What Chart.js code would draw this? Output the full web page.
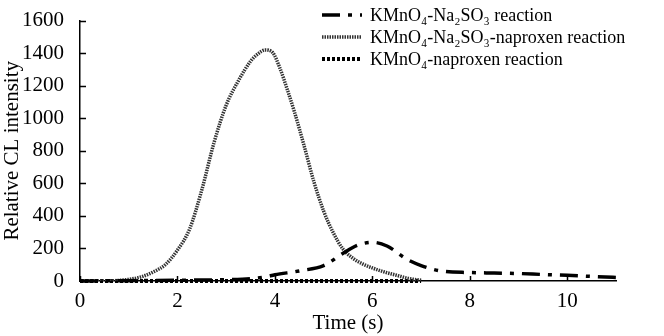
<!DOCTYPE html>
<html>
<head>
<meta charset="utf-8">
<script src="https://cdn.jsdelivr.net/npm/chart.js@4.4.1/dist/chart.umd.min.js"></script>
<style>
  html, body { margin: 0; padding: 0; background: #fff; }
  #wrap { position: relative; width: 664px; height: 336px; }
</style>
</head>
<body>
<div id="wrap"><canvas id="cl"></canvas></div>
<script>
// KMnO4-Na2SO3 reaction (dash-dot)
const sulfiteTime = [0, 1, 2, 2.5, 3, 3.5, 3.8, 4, 4.5, 5, 5.4, 5.7, 6, 6.3, 6.7, 7, 7.4, 8, 8.5, 9, 9.5, 10, 10.5, 11.15];
const sulfiteCL   = [0, 2, 5, 6, 8, 14, 25, 38, 62, 95, 170, 220, 238, 215, 135, 95, 62, 52, 49, 46, 40, 35, 28, 20];

// KMnO4-Na2SO3-naproxen reaction (dotted)
const mixTime = [0, 0.5, 1, 1.25, 1.5, 1.75, 2, 2.25, 2.5, 2.75, 3, 3.25, 3.5, 3.65, 3.8, 3.95, 4.1, 4.25, 4.4, 4.6, 4.8, 5, 5.2, 5.4, 5.6, 5.8, 6, 6.25, 6.5, 6.75, 7];
const mixCL   = [0, 0, 10, 25, 55, 100, 190, 320, 560, 850, 1080, 1230, 1350, 1395, 1420, 1405, 1310, 1180, 1040, 830, 610, 430, 295, 195, 140, 105, 80, 55, 35, 15, 5];

// KMnO4-naproxen reaction (flat, wavy)
const naproxenTime = [0, 1, 2, 3, 4, 5, 6, 7];
const naproxenCL   = [0, 0, 0, 0, 0, 0, 0, 0];

const seriesNames = [
  'KMnO\u2084-Na\u2082SO\u2083 reaction',
  'KMnO\u2084-Na\u2082SO\u2083-naproxen reaction',
  'KMnO\u2084-naproxen reaction'
];
const xTicks = [0, 2, 4, 6, 8, 10];
const yTicks = [0, 200, 400, 600, 800, 1000, 1200, 1400, 1600];

const serif = "'Liberation Serif', 'DejaVu Serif', serif";

function pts(xs, ys) { return xs.map((x, i) => ({ x: x, y: ys[i] })); }

// legend drawn as line samples + text at top right
const legendPlugin = {
  id: 'sampleLegend',
  afterDraw(chart) {
    const c = chart.ctx;
    const rows = [15, 37, 59];
    chart.data.datasets.forEach((ds, i) => {
      const y = rows[i];
      c.save();
      c.strokeStyle = ds.borderColor;
      c.lineWidth = ds.borderWidth;
      c.setLineDash(ds.borderDash || []);
      c.beginPath();
      c.moveTo(322, y);
      c.lineTo(362, y);
      c.stroke();
      c.restore();
      c.save();
      c.fillStyle = '#000';
      c.font = "18px " + serif;
      c.textBaseline = 'middle';
      c.fillText(ds.label, 370, y + 1);
      c.restore();
    });
  }
};

// inward tick marks on both axes
const innerTicks = {
  id: 'innerTicks',
  afterDraw(chart) {
    const c = chart.ctx, xs = chart.scales.x, ys = chart.scales.y;
    const a = chart.chartArea;
    c.save();
    c.strokeStyle = '#000';
    c.lineWidth = 1.5;
    c.beginPath();
    yTicks.forEach(v => {
      const py = Math.round(ys.getPixelForValue(v)) + 0.5;
      c.moveTo(a.left, py); c.lineTo(a.left + 6, py);
    });
    xTicks.forEach(v => {
      const px = Math.round(xs.getPixelForValue(v)) + 0.5;
      c.moveTo(px, a.bottom); c.lineTo(px, a.bottom - 5);
    });
    c.stroke();
    c.restore();
  }
};

new Chart(document.getElementById('cl'), {
  type: 'line',
  data: {
    datasets: [
      {
        label: seriesNames[0],
        data: pts(sulfiteTime, sulfiteCL),
        borderColor: '#000',
        borderWidth: 3.5,
        borderDash: [18, 8, 4, 8],
        pointRadius: 0,
        cubicInterpolationMode: 'monotone',
        clip: false
      },
      {
        label: seriesNames[1],
        data: pts(mixTime, mixCL),
        borderColor: '#333',
        borderWidth: 3.5,
        borderDash: [1.5, 1],
        pointRadius: 0,
        cubicInterpolationMode: 'monotone'
      },
      {
        label: seriesNames[2],
        data: pts(naproxenTime, naproxenCL),
        borderColor: '#000',
        borderWidth: 4,
        borderDash: [3, 2],
        pointRadius: 0,
        clip: false
      }
    ]
  },
  options: {
    responsive: true,
    maintainAspectRatio: false,
    animation: false,
    layout: { padding: { top: 6, right: 48, left: 0, bottom: 0 } },
    plugins: { legend: { display: false }, tooltip: { enabled: false } },
    scales: {
      x: {
        type: 'linear',
        min: 0,
        max: 11,
        afterBuildTicks(s) { s.ticks = xTicks.map(v => ({ value: v })); },
        afterFit(s) { s.height = 55; },
        grid: { display: false },
        border: { display: true, color: '#000', width: 1.5 },
        ticks: { color: '#000', font: { family: serif, size: 21 }, padding: 0, maxRotation: 0,
                 callback: v => String(v) },
        title: { display: true, text: 'Time (s)', color: '#000', font: { family: serif, size: 21 }, padding: { top: 4, bottom: 0 } }
      },
      y: {
        min: 0,
        max: 1600,
        afterBuildTicks(s) { s.ticks = yTicks.map(v => ({ value: v })); },
        afterFit(s) { s.width = 80; },
        grid: { display: false },
        border: { display: true, color: '#000', width: 1.5 },
        ticks: { color: '#000', font: { family: serif, size: 21 }, padding: 8,
                 callback: v => String(v) },
        title: { display: true, text: 'Relative CL intensity', color: '#000', font: { family: serif, size: 21 }, padding: { top: 0, bottom: 2 } }
      }
    }
  },
  plugins: [legendPlugin, innerTicks]
});
</script>
</body>
</html>
